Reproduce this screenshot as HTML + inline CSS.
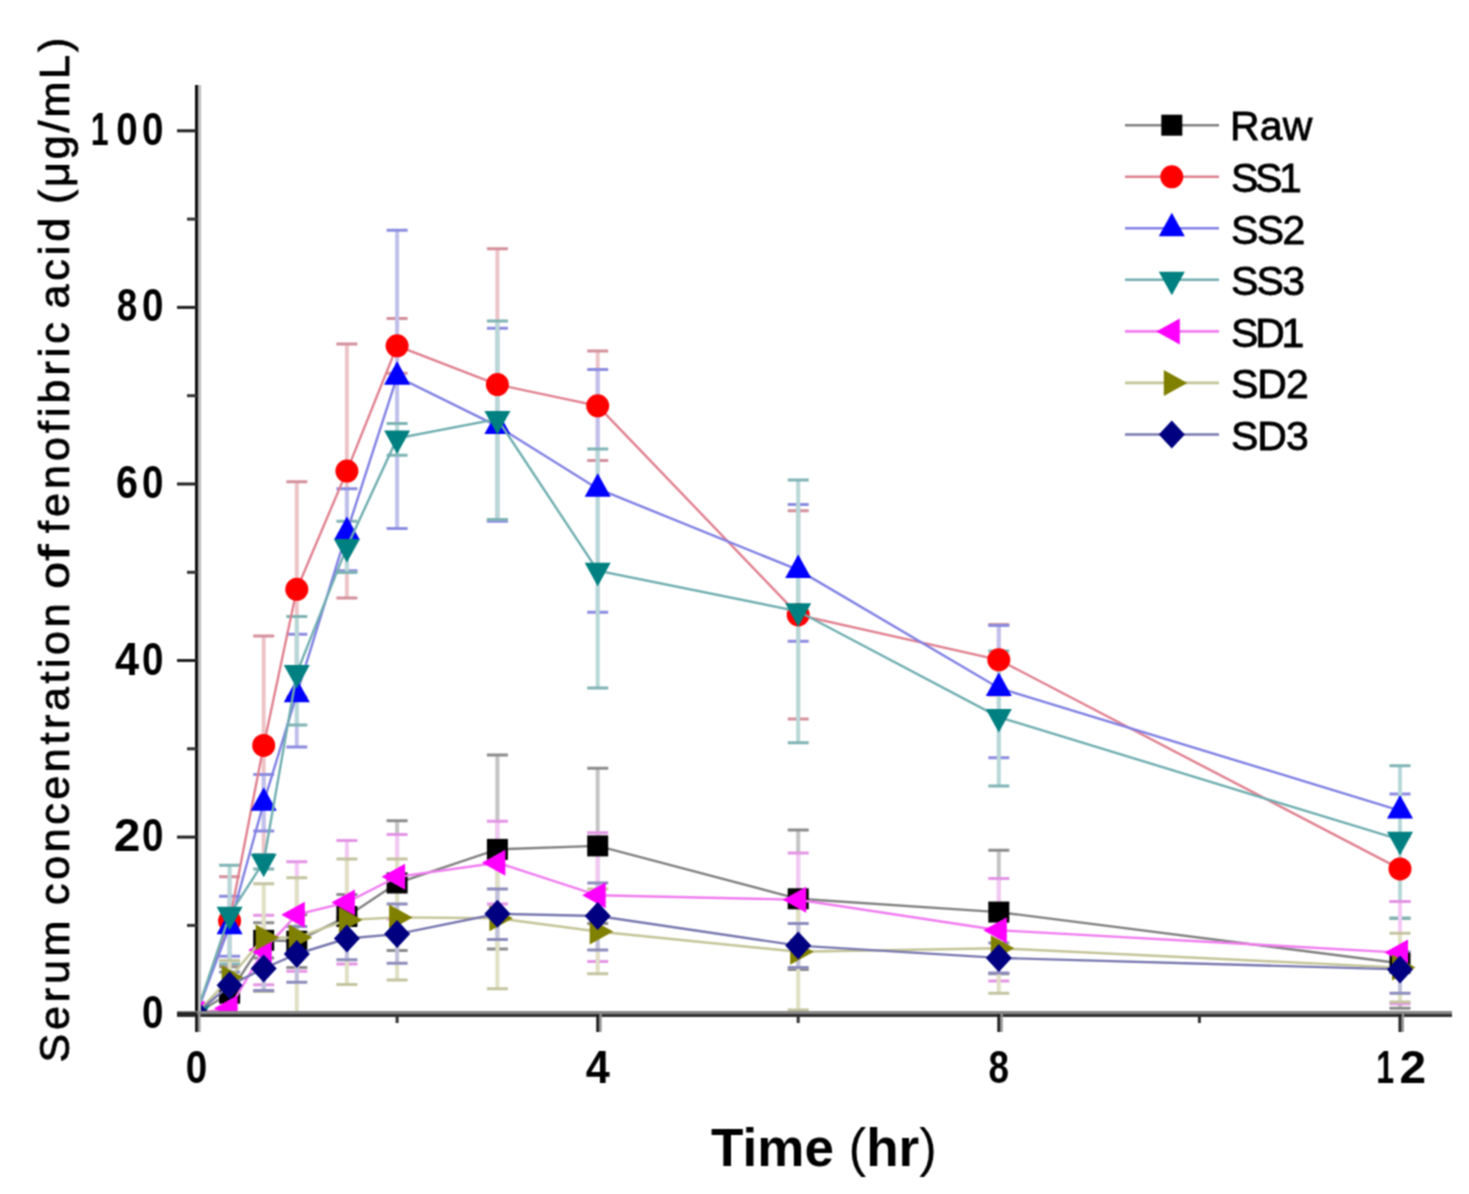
<!DOCTYPE html>
<html><head><meta charset="utf-8"><style>
html,body{margin:0;padding:0;background:#fff;width:1469px;height:1194px;overflow:hidden}
svg{display:block}
text{font-family:"Liberation Sans",sans-serif;font-weight:bold;fill:#000}
.n{font-weight:normal}
.s{stroke:#000;stroke-width:0.8px}
</style></head><body>
<svg width="1469" height="1194" viewBox="0 0 1469 1194">
<defs><filter id="bl" color-interpolation-filters="sRGB" x="0" y="0" width="1469" height="1194" filterUnits="userSpaceOnUse"><feConvolveMatrix order="3" kernelMatrix="1 2 1 2 4 2 1 2 1" edgeMode="duplicate" preserveAlpha="false"/></filter><clipPath id="pc"><rect x="196" y="60" width="1260" height="953.5"/></clipPath></defs>
<g filter="url(#bl)">
<rect x="0" y="0" width="1469" height="1194" fill="#fff"/>
<g clip-path="url(#pc)">
<g><line x1="229.6" y1="966.8" x2="229.6" y2="1019.7" stroke="#c4c4c4" stroke-width="4"/><line x1="219.1" y1="966.8" x2="240.1" y2="966.8" stroke="#8c8c8c" stroke-width="3"/><line x1="263.7" y1="922.7" x2="263.7" y2="957.9" stroke="#c4c4c4" stroke-width="4"/><line x1="253.2" y1="922.7" x2="274.2" y2="922.7" stroke="#8c8c8c" stroke-width="3"/><line x1="253.2" y1="957.9" x2="274.2" y2="957.9" stroke="#8c8c8c" stroke-width="3"/><line x1="296.8" y1="914.7" x2="296.8" y2="967.6" stroke="#c4c4c4" stroke-width="4"/><line x1="286.3" y1="914.7" x2="307.3" y2="914.7" stroke="#8c8c8c" stroke-width="3"/><line x1="286.3" y1="967.6" x2="307.3" y2="967.6" stroke="#8c8c8c" stroke-width="3"/><line x1="346.9" y1="894.4" x2="346.9" y2="938.5" stroke="#c4c4c4" stroke-width="4"/><line x1="336.4" y1="894.4" x2="357.4" y2="894.4" stroke="#8c8c8c" stroke-width="3"/><line x1="336.4" y1="938.5" x2="357.4" y2="938.5" stroke="#8c8c8c" stroke-width="3"/><line x1="397.1" y1="820.8" x2="397.1" y2="950.4" stroke="#c4c4c4" stroke-width="4"/><line x1="386.6" y1="820.8" x2="407.6" y2="820.8" stroke="#8c8c8c" stroke-width="3"/><line x1="386.6" y1="950.4" x2="407.6" y2="950.4" stroke="#8c8c8c" stroke-width="3"/><line x1="497.4" y1="755.1" x2="497.4" y2="949.1" stroke="#c4c4c4" stroke-width="4"/><line x1="486.9" y1="755.1" x2="507.9" y2="755.1" stroke="#8c8c8c" stroke-width="3"/><line x1="486.9" y1="949.1" x2="507.9" y2="949.1" stroke="#8c8c8c" stroke-width="3"/><line x1="597.7" y1="768.3" x2="597.7" y2="923.5" stroke="#c4c4c4" stroke-width="4"/><line x1="587.2" y1="768.3" x2="608.2" y2="768.3" stroke="#8c8c8c" stroke-width="3"/><line x1="587.2" y1="923.5" x2="608.2" y2="923.5" stroke="#8c8c8c" stroke-width="3"/><line x1="798.2" y1="830.0" x2="798.2" y2="969.4" stroke="#c4c4c4" stroke-width="4"/><line x1="787.7" y1="830.0" x2="808.7" y2="830.0" stroke="#8c8c8c" stroke-width="3"/><line x1="787.7" y1="969.4" x2="808.7" y2="969.4" stroke="#8c8c8c" stroke-width="3"/><line x1="998.8" y1="850.3" x2="998.8" y2="973.8" stroke="#c4c4c4" stroke-width="4"/><line x1="988.3" y1="850.3" x2="1009.3" y2="850.3" stroke="#8c8c8c" stroke-width="3"/><line x1="988.3" y1="973.8" x2="1009.3" y2="973.8" stroke="#8c8c8c" stroke-width="3"/><line x1="1400.0" y1="918.2" x2="1400.0" y2="1008.2" stroke="#c4c4c4" stroke-width="4"/><line x1="1389.5" y1="918.2" x2="1410.5" y2="918.2" stroke="#8c8c8c" stroke-width="3"/><line x1="1389.5" y1="1008.2" x2="1410.5" y2="1008.2" stroke="#8c8c8c" stroke-width="3"/></g>
<g><line x1="229.6" y1="876.8" x2="229.6" y2="965.0" stroke="#ecc4c8" stroke-width="4"/><line x1="219.1" y1="876.8" x2="240.1" y2="876.8" stroke="#d4909c" stroke-width="3"/><line x1="219.1" y1="965.0" x2="240.1" y2="965.0" stroke="#d4909c" stroke-width="3"/><line x1="263.7" y1="636.0" x2="263.7" y2="854.7" stroke="#ecc4c8" stroke-width="4"/><line x1="253.2" y1="636.0" x2="274.2" y2="636.0" stroke="#d4909c" stroke-width="3"/><line x1="253.2" y1="854.7" x2="274.2" y2="854.7" stroke="#d4909c" stroke-width="3"/><line x1="296.8" y1="481.7" x2="296.8" y2="696.9" stroke="#ecc4c8" stroke-width="4"/><line x1="286.3" y1="481.7" x2="307.3" y2="481.7" stroke="#d4909c" stroke-width="3"/><line x1="286.3" y1="696.9" x2="307.3" y2="696.9" stroke="#d4909c" stroke-width="3"/><line x1="346.9" y1="344.1" x2="346.9" y2="598.1" stroke="#ecc4c8" stroke-width="4"/><line x1="336.4" y1="344.1" x2="357.4" y2="344.1" stroke="#d4909c" stroke-width="3"/><line x1="336.4" y1="598.1" x2="357.4" y2="598.1" stroke="#d4909c" stroke-width="3"/><line x1="397.1" y1="318.5" x2="397.1" y2="373.2" stroke="#ecc4c8" stroke-width="4"/><line x1="386.6" y1="318.5" x2="407.6" y2="318.5" stroke="#d4909c" stroke-width="3"/><line x1="386.6" y1="373.2" x2="407.6" y2="373.2" stroke="#d4909c" stroke-width="3"/><line x1="497.4" y1="248.8" x2="497.4" y2="520.5" stroke="#ecc4c8" stroke-width="4"/><line x1="486.9" y1="248.8" x2="507.9" y2="248.8" stroke="#d4909c" stroke-width="3"/><line x1="486.9" y1="520.5" x2="507.9" y2="520.5" stroke="#d4909c" stroke-width="3"/><line x1="597.7" y1="351.1" x2="597.7" y2="460.5" stroke="#ecc4c8" stroke-width="4"/><line x1="587.2" y1="351.1" x2="608.2" y2="351.1" stroke="#d4909c" stroke-width="3"/><line x1="587.2" y1="460.5" x2="608.2" y2="460.5" stroke="#d4909c" stroke-width="3"/><line x1="798.2" y1="510.8" x2="798.2" y2="718.9" stroke="#ecc4c8" stroke-width="4"/><line x1="787.7" y1="510.8" x2="808.7" y2="510.8" stroke="#d4909c" stroke-width="3"/><line x1="787.7" y1="718.9" x2="808.7" y2="718.9" stroke="#d4909c" stroke-width="3"/><line x1="998.8" y1="624.5" x2="998.8" y2="695.1" stroke="#ecc4c8" stroke-width="4"/><line x1="988.3" y1="624.5" x2="1009.3" y2="624.5" stroke="#d4909c" stroke-width="3"/><line x1="988.3" y1="695.1" x2="1009.3" y2="695.1" stroke="#d4909c" stroke-width="3"/><line x1="1400.0" y1="836.2" x2="1400.0" y2="901.5" stroke="#ecc4c8" stroke-width="4"/><line x1="1389.5" y1="836.2" x2="1410.5" y2="836.2" stroke="#d4909c" stroke-width="3"/><line x1="1389.5" y1="901.5" x2="1410.5" y2="901.5" stroke="#d4909c" stroke-width="3"/></g>
<g><line x1="229.6" y1="896.2" x2="229.6" y2="956.2" stroke="#c0c0ec" stroke-width="4"/><line x1="219.1" y1="896.2" x2="240.1" y2="896.2" stroke="#8c8ce0" stroke-width="3"/><line x1="219.1" y1="956.2" x2="240.1" y2="956.2" stroke="#8c8ce0" stroke-width="3"/><line x1="263.7" y1="774.5" x2="263.7" y2="830.9" stroke="#c0c0ec" stroke-width="4"/><line x1="253.2" y1="774.5" x2="274.2" y2="774.5" stroke="#8c8ce0" stroke-width="3"/><line x1="253.2" y1="830.9" x2="274.2" y2="830.9" stroke="#8c8ce0" stroke-width="3"/><line x1="296.8" y1="634.2" x2="296.8" y2="747.1" stroke="#c0c0ec" stroke-width="4"/><line x1="286.3" y1="634.2" x2="307.3" y2="634.2" stroke="#8c8ce0" stroke-width="3"/><line x1="286.3" y1="747.1" x2="307.3" y2="747.1" stroke="#8c8ce0" stroke-width="3"/><line x1="346.9" y1="488.7" x2="346.9" y2="570.7" stroke="#c0c0ec" stroke-width="4"/><line x1="336.4" y1="488.7" x2="357.4" y2="488.7" stroke="#8c8ce0" stroke-width="3"/><line x1="336.4" y1="570.7" x2="357.4" y2="570.7" stroke="#8c8ce0" stroke-width="3"/><line x1="397.1" y1="230.3" x2="397.1" y2="528.4" stroke="#c0c0ec" stroke-width="4"/><line x1="386.6" y1="230.3" x2="407.6" y2="230.3" stroke="#8c8ce0" stroke-width="3"/><line x1="386.6" y1="528.4" x2="407.6" y2="528.4" stroke="#8c8ce0" stroke-width="3"/><line x1="497.4" y1="328.2" x2="497.4" y2="521.3" stroke="#c0c0ec" stroke-width="4"/><line x1="486.9" y1="328.2" x2="507.9" y2="328.2" stroke="#8c8ce0" stroke-width="3"/><line x1="486.9" y1="521.3" x2="507.9" y2="521.3" stroke="#8c8ce0" stroke-width="3"/><line x1="597.7" y1="369.6" x2="597.7" y2="612.2" stroke="#c0c0ec" stroke-width="4"/><line x1="587.2" y1="369.6" x2="608.2" y2="369.6" stroke="#8c8ce0" stroke-width="3"/><line x1="587.2" y1="612.2" x2="608.2" y2="612.2" stroke="#8c8ce0" stroke-width="3"/><line x1="798.2" y1="504.6" x2="798.2" y2="641.3" stroke="#c0c0ec" stroke-width="4"/><line x1="787.7" y1="504.6" x2="808.7" y2="504.6" stroke="#8c8ce0" stroke-width="3"/><line x1="787.7" y1="641.3" x2="808.7" y2="641.3" stroke="#8c8ce0" stroke-width="3"/><line x1="998.8" y1="625.4" x2="998.8" y2="757.7" stroke="#c0c0ec" stroke-width="4"/><line x1="988.3" y1="625.4" x2="1009.3" y2="625.4" stroke="#8c8ce0" stroke-width="3"/><line x1="988.3" y1="757.7" x2="1009.3" y2="757.7" stroke="#8c8ce0" stroke-width="3"/><line x1="1400.0" y1="793.9" x2="1400.0" y2="834.5" stroke="#c0c0ec" stroke-width="4"/><line x1="1389.5" y1="793.9" x2="1410.5" y2="793.9" stroke="#8c8ce0" stroke-width="3"/><line x1="1389.5" y1="834.5" x2="1410.5" y2="834.5" stroke="#8c8ce0" stroke-width="3"/></g>
<g><line x1="229.6" y1="865.3" x2="229.6" y2="964.1" stroke="#b8d8d8" stroke-width="4"/><line x1="219.1" y1="865.3" x2="240.1" y2="865.3" stroke="#80b4b4" stroke-width="3"/><line x1="219.1" y1="964.1" x2="240.1" y2="964.1" stroke="#80b4b4" stroke-width="3"/><line x1="263.7" y1="854.7" x2="263.7" y2="868.9" stroke="#b8d8d8" stroke-width="4"/><line x1="253.2" y1="854.7" x2="274.2" y2="854.7" stroke="#80b4b4" stroke-width="3"/><line x1="253.2" y1="868.9" x2="274.2" y2="868.9" stroke="#80b4b4" stroke-width="3"/><line x1="296.8" y1="616.6" x2="296.8" y2="725.1" stroke="#b8d8d8" stroke-width="4"/><line x1="286.3" y1="616.6" x2="307.3" y2="616.6" stroke="#80b4b4" stroke-width="3"/><line x1="286.3" y1="725.1" x2="307.3" y2="725.1" stroke="#80b4b4" stroke-width="3"/><line x1="346.9" y1="521.3" x2="346.9" y2="572.5" stroke="#b8d8d8" stroke-width="4"/><line x1="336.4" y1="521.3" x2="357.4" y2="521.3" stroke="#80b4b4" stroke-width="3"/><line x1="336.4" y1="572.5" x2="357.4" y2="572.5" stroke="#80b4b4" stroke-width="3"/><line x1="397.1" y1="423.4" x2="397.1" y2="455.2" stroke="#b8d8d8" stroke-width="4"/><line x1="386.6" y1="423.4" x2="407.6" y2="423.4" stroke="#80b4b4" stroke-width="3"/><line x1="386.6" y1="455.2" x2="407.6" y2="455.2" stroke="#80b4b4" stroke-width="3"/><line x1="497.4" y1="321.1" x2="497.4" y2="519.6" stroke="#b8d8d8" stroke-width="4"/><line x1="486.9" y1="321.1" x2="507.9" y2="321.1" stroke="#80b4b4" stroke-width="3"/><line x1="486.9" y1="519.6" x2="507.9" y2="519.6" stroke="#80b4b4" stroke-width="3"/><line x1="597.7" y1="449.0" x2="597.7" y2="688.0" stroke="#b8d8d8" stroke-width="4"/><line x1="587.2" y1="449.0" x2="608.2" y2="449.0" stroke="#80b4b4" stroke-width="3"/><line x1="587.2" y1="688.0" x2="608.2" y2="688.0" stroke="#80b4b4" stroke-width="3"/><line x1="798.2" y1="479.9" x2="798.2" y2="742.7" stroke="#b8d8d8" stroke-width="4"/><line x1="787.7" y1="479.9" x2="808.7" y2="479.9" stroke="#80b4b4" stroke-width="3"/><line x1="787.7" y1="742.7" x2="808.7" y2="742.7" stroke="#80b4b4" stroke-width="3"/><line x1="998.8" y1="651.0" x2="998.8" y2="785.9" stroke="#b8d8d8" stroke-width="4"/><line x1="988.3" y1="651.0" x2="1009.3" y2="651.0" stroke="#80b4b4" stroke-width="3"/><line x1="988.3" y1="785.9" x2="1009.3" y2="785.9" stroke="#80b4b4" stroke-width="3"/><line x1="1400.0" y1="765.7" x2="1400.0" y2="918.2" stroke="#b8d8d8" stroke-width="4"/><line x1="1389.5" y1="765.7" x2="1410.5" y2="765.7" stroke="#80b4b4" stroke-width="3"/><line x1="1389.5" y1="918.2" x2="1410.5" y2="918.2" stroke="#80b4b4" stroke-width="3"/></g>
<g><line x1="229.6" y1="999.4" x2="229.6" y2="1017.0" stroke="#f4c8f4" stroke-width="4"/><line x1="219.1" y1="999.4" x2="240.1" y2="999.4" stroke="#e494e4" stroke-width="3"/><line x1="219.1" y1="1017.0" x2="240.1" y2="1017.0" stroke="#e494e4" stroke-width="3"/><line x1="263.7" y1="915.2" x2="263.7" y2="984.8" stroke="#f4c8f4" stroke-width="4"/><line x1="253.2" y1="915.2" x2="274.2" y2="915.2" stroke="#e494e4" stroke-width="3"/><line x1="253.2" y1="984.8" x2="274.2" y2="984.8" stroke="#e494e4" stroke-width="3"/><line x1="296.8" y1="861.8" x2="296.8" y2="971.2" stroke="#f4c8f4" stroke-width="4"/><line x1="286.3" y1="861.8" x2="307.3" y2="861.8" stroke="#e494e4" stroke-width="3"/><line x1="286.3" y1="971.2" x2="307.3" y2="971.2" stroke="#e494e4" stroke-width="3"/><line x1="346.9" y1="840.6" x2="346.9" y2="964.1" stroke="#f4c8f4" stroke-width="4"/><line x1="336.4" y1="840.6" x2="357.4" y2="840.6" stroke="#e494e4" stroke-width="3"/><line x1="336.4" y1="964.1" x2="357.4" y2="964.1" stroke="#e494e4" stroke-width="3"/><line x1="397.1" y1="834.5" x2="397.1" y2="919.1" stroke="#f4c8f4" stroke-width="4"/><line x1="386.6" y1="834.5" x2="407.6" y2="834.5" stroke="#e494e4" stroke-width="3"/><line x1="386.6" y1="919.1" x2="407.6" y2="919.1" stroke="#e494e4" stroke-width="3"/><line x1="497.4" y1="821.2" x2="497.4" y2="904.1" stroke="#f4c8f4" stroke-width="4"/><line x1="486.9" y1="821.2" x2="507.9" y2="821.2" stroke="#e494e4" stroke-width="3"/><line x1="486.9" y1="904.1" x2="507.9" y2="904.1" stroke="#e494e4" stroke-width="3"/><line x1="597.7" y1="832.7" x2="597.7" y2="961.5" stroke="#f4c8f4" stroke-width="4"/><line x1="587.2" y1="832.7" x2="608.2" y2="832.7" stroke="#e494e4" stroke-width="3"/><line x1="587.2" y1="961.5" x2="608.2" y2="961.5" stroke="#e494e4" stroke-width="3"/><line x1="798.2" y1="853.0" x2="798.2" y2="946.5" stroke="#f4c8f4" stroke-width="4"/><line x1="787.7" y1="853.0" x2="808.7" y2="853.0" stroke="#e494e4" stroke-width="3"/><line x1="787.7" y1="946.5" x2="808.7" y2="946.5" stroke="#e494e4" stroke-width="3"/><line x1="998.8" y1="878.6" x2="998.8" y2="980.9" stroke="#f4c8f4" stroke-width="4"/><line x1="988.3" y1="878.6" x2="1009.3" y2="878.6" stroke="#e494e4" stroke-width="3"/><line x1="988.3" y1="980.9" x2="1009.3" y2="980.9" stroke="#e494e4" stroke-width="3"/><line x1="1400.0" y1="901.5" x2="1400.0" y2="1003.8" stroke="#f4c8f4" stroke-width="4"/><line x1="1389.5" y1="901.5" x2="1410.5" y2="901.5" stroke="#e494e4" stroke-width="3"/><line x1="1389.5" y1="1003.8" x2="1410.5" y2="1003.8" stroke="#e494e4" stroke-width="3"/></g>
<g><line x1="229.6" y1="960.6" x2="229.6" y2="995.9" stroke="#e0e0c4" stroke-width="4"/><line x1="219.1" y1="960.6" x2="240.1" y2="960.6" stroke="#c4c4a0" stroke-width="3"/><line x1="219.1" y1="995.9" x2="240.1" y2="995.9" stroke="#c4c4a0" stroke-width="3"/><line x1="263.7" y1="883.8" x2="263.7" y2="991.5" stroke="#e0e0c4" stroke-width="4"/><line x1="253.2" y1="883.8" x2="274.2" y2="883.8" stroke="#c4c4a0" stroke-width="3"/><line x1="253.2" y1="991.5" x2="274.2" y2="991.5" stroke="#c4c4a0" stroke-width="3"/><line x1="296.8" y1="877.7" x2="296.8" y2="1021.4" stroke="#e0e0c4" stroke-width="4"/><line x1="286.3" y1="877.7" x2="307.3" y2="877.7" stroke="#c4c4a0" stroke-width="3"/><line x1="346.9" y1="859.1" x2="346.9" y2="984.4" stroke="#e0e0c4" stroke-width="4"/><line x1="336.4" y1="859.1" x2="357.4" y2="859.1" stroke="#c4c4a0" stroke-width="3"/><line x1="336.4" y1="984.4" x2="357.4" y2="984.4" stroke="#c4c4a0" stroke-width="3"/><line x1="397.1" y1="859.1" x2="397.1" y2="980.0" stroke="#e0e0c4" stroke-width="4"/><line x1="386.6" y1="859.1" x2="407.6" y2="859.1" stroke="#c4c4a0" stroke-width="3"/><line x1="386.6" y1="980.0" x2="407.6" y2="980.0" stroke="#c4c4a0" stroke-width="3"/><line x1="497.4" y1="847.7" x2="497.4" y2="988.8" stroke="#e0e0c4" stroke-width="4"/><line x1="486.9" y1="847.7" x2="507.9" y2="847.7" stroke="#c4c4a0" stroke-width="3"/><line x1="486.9" y1="988.8" x2="507.9" y2="988.8" stroke="#c4c4a0" stroke-width="3"/><line x1="597.7" y1="889.1" x2="597.7" y2="973.8" stroke="#e0e0c4" stroke-width="4"/><line x1="587.2" y1="889.1" x2="608.2" y2="889.1" stroke="#c4c4a0" stroke-width="3"/><line x1="587.2" y1="973.8" x2="608.2" y2="973.8" stroke="#c4c4a0" stroke-width="3"/><line x1="798.2" y1="893.5" x2="798.2" y2="1010.0" stroke="#e0e0c4" stroke-width="4"/><line x1="787.7" y1="893.5" x2="808.7" y2="893.5" stroke="#c4c4a0" stroke-width="3"/><line x1="787.7" y1="1010.0" x2="808.7" y2="1010.0" stroke="#c4c4a0" stroke-width="3"/><line x1="998.8" y1="903.2" x2="998.8" y2="993.2" stroke="#e0e0c4" stroke-width="4"/><line x1="988.3" y1="903.2" x2="1009.3" y2="903.2" stroke="#c4c4a0" stroke-width="3"/><line x1="988.3" y1="993.2" x2="1009.3" y2="993.2" stroke="#c4c4a0" stroke-width="3"/><line x1="1400.0" y1="933.2" x2="1400.0" y2="1002.0" stroke="#e0e0c4" stroke-width="4"/><line x1="1389.5" y1="933.2" x2="1410.5" y2="933.2" stroke="#c4c4a0" stroke-width="3"/><line x1="1389.5" y1="1002.0" x2="1410.5" y2="1002.0" stroke="#c4c4a0" stroke-width="3"/></g>
<g><line x1="229.6" y1="972.0" x2="229.6" y2="998.5" stroke="#c0c0dc" stroke-width="4"/><line x1="219.1" y1="972.0" x2="240.1" y2="972.0" stroke="#8c8cbc" stroke-width="3"/><line x1="219.1" y1="998.5" x2="240.1" y2="998.5" stroke="#8c8cbc" stroke-width="3"/><line x1="263.7" y1="946.5" x2="263.7" y2="990.6" stroke="#c0c0dc" stroke-width="4"/><line x1="253.2" y1="946.5" x2="274.2" y2="946.5" stroke="#8c8cbc" stroke-width="3"/><line x1="253.2" y1="990.6" x2="274.2" y2="990.6" stroke="#8c8cbc" stroke-width="3"/><line x1="296.8" y1="926.6" x2="296.8" y2="982.2" stroke="#c0c0dc" stroke-width="4"/><line x1="286.3" y1="926.6" x2="307.3" y2="926.6" stroke="#8c8cbc" stroke-width="3"/><line x1="286.3" y1="982.2" x2="307.3" y2="982.2" stroke="#8c8cbc" stroke-width="3"/><line x1="346.9" y1="917.4" x2="346.9" y2="959.7" stroke="#c0c0dc" stroke-width="4"/><line x1="336.4" y1="917.4" x2="357.4" y2="917.4" stroke="#8c8cbc" stroke-width="3"/><line x1="336.4" y1="959.7" x2="357.4" y2="959.7" stroke="#8c8cbc" stroke-width="3"/><line x1="397.1" y1="904.1" x2="397.1" y2="963.2" stroke="#c0c0dc" stroke-width="4"/><line x1="386.6" y1="904.1" x2="407.6" y2="904.1" stroke="#8c8cbc" stroke-width="3"/><line x1="386.6" y1="963.2" x2="407.6" y2="963.2" stroke="#8c8cbc" stroke-width="3"/><line x1="497.4" y1="889.1" x2="497.4" y2="939.4" stroke="#c0c0dc" stroke-width="4"/><line x1="486.9" y1="889.1" x2="507.9" y2="889.1" stroke="#8c8cbc" stroke-width="3"/><line x1="486.9" y1="939.4" x2="507.9" y2="939.4" stroke="#8c8cbc" stroke-width="3"/><line x1="597.7" y1="883.0" x2="597.7" y2="950.0" stroke="#c0c0dc" stroke-width="4"/><line x1="587.2" y1="883.0" x2="608.2" y2="883.0" stroke="#8c8cbc" stroke-width="3"/><line x1="587.2" y1="950.0" x2="608.2" y2="950.0" stroke="#8c8cbc" stroke-width="3"/><line x1="798.2" y1="923.5" x2="798.2" y2="967.6" stroke="#c0c0dc" stroke-width="4"/><line x1="787.7" y1="923.5" x2="808.7" y2="923.5" stroke="#8c8cbc" stroke-width="3"/><line x1="787.7" y1="967.6" x2="808.7" y2="967.6" stroke="#8c8cbc" stroke-width="3"/><line x1="998.8" y1="942.9" x2="998.8" y2="972.9" stroke="#c0c0dc" stroke-width="4"/><line x1="988.3" y1="942.9" x2="1009.3" y2="942.9" stroke="#8c8cbc" stroke-width="3"/><line x1="988.3" y1="972.9" x2="1009.3" y2="972.9" stroke="#8c8cbc" stroke-width="3"/><line x1="1400.0" y1="951.8" x2="1400.0" y2="993.2" stroke="#c0c0dc" stroke-width="4"/><line x1="1389.5" y1="951.8" x2="1410.5" y2="951.8" stroke="#8c8cbc" stroke-width="3"/><line x1="1389.5" y1="993.2" x2="1410.5" y2="993.2" stroke="#8c8cbc" stroke-width="3"/></g>
<g><polyline points="196.5,1013.5 229.6,993.2 263.7,940.3 296.8,941.2 346.9,916.5 397.1,883.0 497.4,849.4 597.7,845.9 798.2,898.8 998.8,912.1 1400.0,963.2" fill="none" stroke="#808080" stroke-width="2.4"/><rect x="186.0" y="1003.0" width="21.0" height="21.0" fill="#000000"/><rect x="219.1" y="982.7" width="21.0" height="21.0" fill="#000000"/><rect x="253.2" y="929.8" width="21.0" height="21.0" fill="#000000"/><rect x="286.3" y="930.7" width="21.0" height="21.0" fill="#000000"/><rect x="336.4" y="906.0" width="21.0" height="21.0" fill="#000000"/><rect x="386.6" y="872.5" width="21.0" height="21.0" fill="#000000"/><rect x="486.9" y="838.9" width="21.0" height="21.0" fill="#000000"/><rect x="587.2" y="835.4" width="21.0" height="21.0" fill="#000000"/><rect x="787.7" y="888.3" width="21.0" height="21.0" fill="#000000"/><rect x="988.3" y="901.6" width="21.0" height="21.0" fill="#000000"/><rect x="1389.5" y="952.7" width="21.0" height="21.0" fill="#000000"/></g>
<g><polyline points="196.5,1013.5 229.6,920.9 263.7,745.4 296.8,589.3 346.9,471.1 397.1,345.8 497.4,384.6 597.7,405.8 798.2,614.8 998.8,659.8 1400.0,868.9" fill="none" stroke="#e0808f" stroke-width="2.4"/><circle cx="196.5" cy="1013.5" r="11.5" fill="#ff0000"/><circle cx="229.6" cy="920.9" r="11.5" fill="#ff0000"/><circle cx="263.7" cy="745.4" r="11.5" fill="#ff0000"/><circle cx="296.8" cy="589.3" r="11.5" fill="#ff0000"/><circle cx="346.9" cy="471.1" r="11.5" fill="#ff0000"/><circle cx="397.1" cy="345.8" r="11.5" fill="#ff0000"/><circle cx="497.4" cy="384.6" r="11.5" fill="#ff0000"/><circle cx="597.7" cy="405.8" r="11.5" fill="#ff0000"/><circle cx="798.2" cy="614.8" r="11.5" fill="#ff0000"/><circle cx="998.8" cy="659.8" r="11.5" fill="#ff0000"/><circle cx="1400.0" cy="868.9" r="11.5" fill="#ff0000"/></g>
<g><polyline points="196.5,1013.5 229.6,926.2 263.7,802.7 296.8,694.2 346.9,531.9 397.1,376.7 497.4,426.1 597.7,488.7 798.2,569.9 998.8,688.0 1400.0,810.6" fill="none" stroke="#8080e4" stroke-width="2.4"/><polygon points="196.5,998.0 183.5,1021.5 209.5,1021.5" fill="#0000ff"/><polygon points="229.6,910.7 216.6,934.2 242.6,934.2" fill="#0000ff"/><polygon points="263.7,787.2 250.7,810.7 276.7,810.7" fill="#0000ff"/><polygon points="296.8,678.7 283.8,702.2 309.8,702.2" fill="#0000ff"/><polygon points="346.9,516.4 333.9,539.9 359.9,539.9" fill="#0000ff"/><polygon points="397.1,361.2 384.1,384.7 410.1,384.7" fill="#0000ff"/><polygon points="497.4,410.6 484.4,434.1 510.4,434.1" fill="#0000ff"/><polygon points="597.7,473.2 584.7,496.7 610.7,496.7" fill="#0000ff"/><polygon points="798.2,554.4 785.2,577.9 811.2,577.9" fill="#0000ff"/><polygon points="998.8,672.5 985.8,696.0 1011.8,696.0" fill="#0000ff"/><polygon points="1400.0,795.1 1387.0,818.6 1413.0,818.6" fill="#0000ff"/></g>
<g><polyline points="196.5,1013.5 229.6,914.7 263.7,861.8 296.8,673.0 346.9,546.9 397.1,438.4 497.4,419.0 597.7,570.7 798.2,611.3 998.8,717.1 1400.0,839.7" fill="none" stroke="#70aeb0" stroke-width="2.4"/><polygon points="196.5,1029.0 183.5,1005.5 209.5,1005.5" fill="#008080"/><polygon points="229.6,930.2 216.6,906.7 242.6,906.7" fill="#008080"/><polygon points="263.7,877.3 250.7,853.8 276.7,853.8" fill="#008080"/><polygon points="296.8,688.5 283.8,665.0 309.8,665.0" fill="#008080"/><polygon points="346.9,562.4 333.9,538.9 359.9,538.9" fill="#008080"/><polygon points="397.1,453.9 384.1,430.4 410.1,430.4" fill="#008080"/><polygon points="497.4,434.5 484.4,411.0 510.4,411.0" fill="#008080"/><polygon points="597.7,586.2 584.7,562.7 610.7,562.7" fill="#008080"/><polygon points="798.2,626.8 785.2,603.3 811.2,603.3" fill="#008080"/><polygon points="998.8,732.6 985.8,709.1 1011.8,709.1" fill="#008080"/><polygon points="1400.0,855.2 1387.0,831.7 1413.0,831.7" fill="#008080"/></g>
<g><polyline points="196.5,1013.5 229.6,1008.2 263.7,950.0 296.8,914.7 346.9,902.4 397.1,876.8 497.4,862.7 597.7,895.3 798.2,899.7 998.8,930.2 1400.0,952.6" fill="none" stroke="#f07cf0" stroke-width="2.4"/><polygon points="181.0,1013.5 204.5,1000.5 204.5,1026.5" fill="#ff00ff"/><polygon points="214.1,1008.2 237.6,995.2 237.6,1021.2" fill="#ff00ff"/><polygon points="248.2,950.0 271.7,937.0 271.7,963.0" fill="#ff00ff"/><polygon points="281.3,914.7 304.8,901.7 304.8,927.7" fill="#ff00ff"/><polygon points="331.4,902.4 354.9,889.4 354.9,915.4" fill="#ff00ff"/><polygon points="381.6,876.8 405.1,863.8 405.1,889.8" fill="#ff00ff"/><polygon points="481.9,862.7 505.4,849.7 505.4,875.7" fill="#ff00ff"/><polygon points="582.2,895.3 605.7,882.3 605.7,908.3" fill="#ff00ff"/><polygon points="782.7,899.7 806.2,886.7 806.2,912.7" fill="#ff00ff"/><polygon points="983.3,930.2 1006.8,917.2 1006.8,943.2" fill="#ff00ff"/><polygon points="1384.5,952.6 1408.0,939.6 1408.0,965.6" fill="#ff00ff"/></g>
<g><polyline points="196.5,1013.5 229.6,978.2 263.7,937.6 296.8,937.6 346.9,920.0 397.1,917.4 497.4,918.2 597.7,931.5 798.2,951.8 998.8,948.2 1400.0,967.6" fill="none" stroke="#c4c498" stroke-width="2.4"/><polygon points="212.0,1013.5 188.5,1000.5 188.5,1026.5" fill="#808000"/><polygon points="245.1,978.2 221.6,965.2 221.6,991.2" fill="#808000"/><polygon points="279.2,937.6 255.7,924.6 255.7,950.6" fill="#808000"/><polygon points="312.3,937.6 288.8,924.6 288.8,950.6" fill="#808000"/><polygon points="362.4,920.0 338.9,907.0 338.9,933.0" fill="#808000"/><polygon points="412.6,917.4 389.1,904.4 389.1,930.4" fill="#808000"/><polygon points="512.9,918.2 489.4,905.2 489.4,931.2" fill="#808000"/><polygon points="613.2,931.5 589.7,918.5 589.7,944.5" fill="#808000"/><polygon points="813.7,951.8 790.2,938.8 790.2,964.8" fill="#808000"/><polygon points="1014.3,948.2 990.8,935.2 990.8,961.2" fill="#808000"/><polygon points="1415.5,967.6 1392.0,954.6 1392.0,980.6" fill="#808000"/></g>
<g><polyline points="196.5,1013.5 229.6,985.3 263.7,968.5 296.8,954.0 346.9,938.5 397.1,934.1 497.4,913.8 597.7,916.0 798.2,945.6 998.8,957.9 1400.0,969.4" fill="none" stroke="#7878b0" stroke-width="2.4"/><polygon points="196.5,999.5 209.5,1013.5 196.5,1027.5 183.5,1013.5" fill="#000080"/><polygon points="229.6,971.3 242.6,985.3 229.6,999.3 216.6,985.3" fill="#000080"/><polygon points="263.7,954.5 276.7,968.5 263.7,982.5 250.7,968.5" fill="#000080"/><polygon points="296.8,940.0 309.8,954.0 296.8,968.0 283.8,954.0" fill="#000080"/><polygon points="346.9,924.5 359.9,938.5 346.9,952.5 333.9,938.5" fill="#000080"/><polygon points="397.1,920.1 410.1,934.1 397.1,948.1 384.1,934.1" fill="#000080"/><polygon points="497.4,899.8 510.4,913.8 497.4,927.8 484.4,913.8" fill="#000080"/><polygon points="597.7,902.0 610.7,916.0 597.7,930.0 584.7,916.0" fill="#000080"/><polygon points="798.2,931.6 811.2,945.6 798.2,959.6 785.2,945.6" fill="#000080"/><polygon points="998.8,943.9 1011.8,957.9 998.8,971.9 985.8,957.9" fill="#000080"/><polygon points="1400.0,955.4 1413.0,969.4 1400.0,983.4 1387.0,969.4" fill="#000080"/></g>
</g>
<rect x="195" y="85" width="3" height="947" fill="#111"/>
<rect x="198" y="85" width="3" height="926" fill="#bbb"/>
<rect x="177" y="1011" width="1275" height="3" fill="#888"/>
<rect x="177" y="1014" width="1275" height="3" fill="#333"/>
<rect x="177" y="1012.2" width="20" height="3" fill="#222"/>
<text transform="translate(152.7,1027.7) scale(0.84,1)" font-size="46" text-anchor="middle">0</text>
<rect x="187" y="923.9" width="10" height="3" fill="#333"/>
<rect x="177" y="835.6" width="20" height="3" fill="#222"/>
<text transform="translate(127.1,851.1) scale(1.04,1)" font-size="46" text-anchor="middle">2</text><text transform="translate(152.7,851.1) scale(0.84,1)" font-size="46" text-anchor="middle">0</text>
<rect x="187" y="747.3" width="10" height="3" fill="#333"/>
<rect x="177" y="659.0" width="20" height="3" fill="#222"/>
<text transform="translate(127.1,674.5) scale(0.94,1)" font-size="46" text-anchor="middle">4</text><text transform="translate(152.7,674.5) scale(0.84,1)" font-size="46" text-anchor="middle">0</text>
<rect x="187" y="570.8" width="10" height="3" fill="#333"/>
<rect x="177" y="482.5" width="20" height="3" fill="#222"/>
<text transform="translate(127.1,498.0) scale(0.86,1)" font-size="46" text-anchor="middle">6</text><text transform="translate(152.7,498.0) scale(0.84,1)" font-size="46" text-anchor="middle">0</text>
<rect x="187" y="394.2" width="10" height="3" fill="#333"/>
<rect x="177" y="305.9" width="20" height="3" fill="#222"/>
<text transform="translate(127.1,321.4) scale(0.8,1)" font-size="46" text-anchor="middle">8</text><text transform="translate(152.7,321.4) scale(0.84,1)" font-size="46" text-anchor="middle">0</text>
<rect x="187" y="217.6" width="10" height="3" fill="#333"/>
<rect x="177" y="129.3" width="20" height="3" fill="#222"/>
<text transform="translate(99.6,144.8) scale(0.7,1)" font-size="46" text-anchor="middle">1</text><text transform="translate(127.1,144.8) scale(0.84,1)" font-size="46" text-anchor="middle">0</text><text transform="translate(152.7,144.8) scale(0.84,1)" font-size="46" text-anchor="middle">0</text>
<rect x="198.0" y="1014" width="2.5" height="18" fill="#999"/>
<rect x="195.0" y="1014" width="3" height="18" fill="#222"/>
<text transform="translate(196.5,1082.5) scale(0.84,1)" font-size="46" text-anchor="middle">0</text>
<rect x="395.6" y="1014" width="3" height="9" fill="#333"/>
<rect x="599.2" y="1014" width="2.5" height="18" fill="#999"/>
<rect x="596.2" y="1014" width="3" height="18" fill="#222"/>
<text transform="translate(597.7,1082.5) scale(0.94,1)" font-size="46" text-anchor="middle">4</text>
<rect x="796.7" y="1014" width="3" height="9" fill="#333"/>
<rect x="1000.3" y="1014" width="2.5" height="18" fill="#999"/>
<rect x="997.3" y="1014" width="3" height="18" fill="#222"/>
<text transform="translate(998.8,1082.5) scale(0.8,1)" font-size="46" text-anchor="middle">8</text>
<rect x="1197.9" y="1014" width="3" height="9" fill="#333"/>
<rect x="1401.5" y="1014" width="2.5" height="18" fill="#999"/>
<rect x="1398.5" y="1014" width="3" height="18" fill="#222"/>
<text transform="translate(1385.2,1082.5) scale(0.7,1)" font-size="46" text-anchor="middle">1</text><text transform="translate(1412.8,1082.5) scale(1.04,1)" font-size="46" text-anchor="middle">2</text>
<line x1="1125" y1="125.2" x2="1219" y2="125.2" stroke="#808080" stroke-width="2.6"/>
<rect x="1161.3" y="114.7" width="21.0" height="21.0" fill="#000000"/>
<text x="1230" y="140.4" font-size="41" class="n s" textLength="82.33" lengthAdjust="spacing">Raw</text>
<line x1="1125" y1="176.8" x2="1219" y2="176.8" stroke="#e0808f" stroke-width="2.6"/>
<circle cx="1171.8" cy="176.8" r="11.5" fill="#ff0000"/>
<text x="1231" y="191.9" font-size="41" class="n s" textLength="70.9" lengthAdjust="spacing">SS1</text>
<line x1="1125" y1="228.3" x2="1219" y2="228.3" stroke="#8080e4" stroke-width="2.6"/>
<polygon points="1171.8,212.8 1158.8,236.3 1184.8,236.3" fill="#0000ff"/>
<text x="1231" y="243.5" font-size="41" class="n s" textLength="74.4" lengthAdjust="spacing">SS2</text>
<line x1="1125" y1="279.8" x2="1219" y2="279.8" stroke="#70aeb0" stroke-width="2.6"/>
<polygon points="1171.8,295.3 1158.8,271.8 1184.8,271.8" fill="#008080"/>
<text x="1231" y="295.0" font-size="41" class="n s" textLength="74.0" lengthAdjust="spacing">SS3</text>
<line x1="1125" y1="331.4" x2="1219" y2="331.4" stroke="#f07cf0" stroke-width="2.6"/>
<polygon points="1156.3,331.4 1179.8,318.4 1179.8,344.4" fill="#ff00ff"/>
<text x="1231" y="346.6" font-size="41" class="n s" textLength="73.37" lengthAdjust="spacing">SD1</text>
<line x1="1125" y1="382.9" x2="1219" y2="382.9" stroke="#c4c498" stroke-width="2.6"/>
<polygon points="1187.3,382.9 1163.8,369.9 1163.8,395.9" fill="#808000"/>
<text x="1231" y="398.1" font-size="41" class="n s" textLength="77.77" lengthAdjust="spacing">SD2</text>
<line x1="1125" y1="434.5" x2="1219" y2="434.5" stroke="#7878b0" stroke-width="2.6"/>
<polygon points="1171.8,420.5 1184.8,434.5 1171.8,448.5 1158.8,434.5" fill="#000080"/>
<text x="1231" y="449.7" font-size="41" class="n s" textLength="77.77" lengthAdjust="spacing">SD3</text>
<text x="824" y="1165.5" font-size="53" text-anchor="middle">Time <tspan class="n">(</tspan>hr<tspan class="n">)</tspan></text>
<text transform="translate(68.5,588.7) rotate(-90) scale(1.12,1)" font-size="43" class="n s">o</text><text transform="translate(68.5,560.8) rotate(-90) scale(1.35,1)" font-size="43" class="n s">f</text>
<text transform="translate(68.5,1062.5) rotate(-90)" font-size="43" class="n s" textLength="141.96" lengthAdjust="spacing">Serum</text>
<text transform="translate(68.5,904.9) rotate(-90)" font-size="43" class="n s" textLength="301.47" lengthAdjust="spacing">concentration</text>
<text transform="translate(68.5,532.9) rotate(-90)" font-size="43" class="n s" textLength="210.78" lengthAdjust="spacing">fenofibric</text>
<text transform="translate(68.5,308.6) rotate(-90)" font-size="43" class="n s" textLength="90.79" lengthAdjust="spacing">acid</text>
<text transform="translate(68.5,204.1) rotate(-90)" font-size="43" class="n s" textLength="166.32" lengthAdjust="spacing">(μg/mL)</text>
</g>
</svg>
</body></html>
